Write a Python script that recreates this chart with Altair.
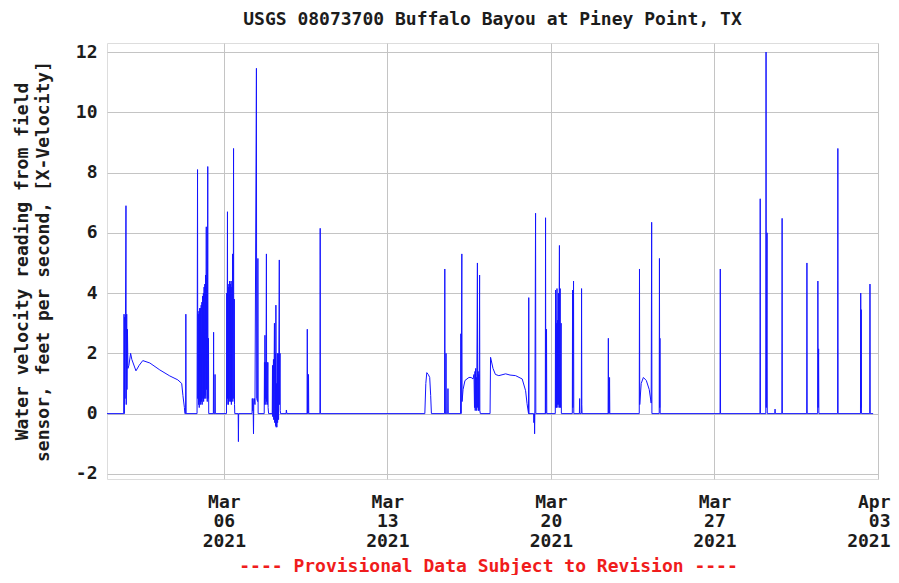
import altair as alt
import pandas as pd

# ---------------- data (15-minute readings, ft/s) ----------------
# Mar 1 - Mar 4 : first event and recession curve
times_a = [
    "03-01 00:00", "03-01 17:15", "03-01 17:30", "03-01 17:45", "03-01 18:15", "03-01 18:30", "03-01 19:00", "03-01 19:30", "03-01 19:45", "03-01 20:15",
    "03-01 20:30", "03-01 21:00", "03-01 21:30", "03-01 22:30", "03-02 00:15", "03-02 01:30", "03-02 05:45", "03-02 09:00", "03-02 12:45", "03-02 20:00",
    "03-03 06:15", "03-03 16:30", "03-04 00:45", "03-04 04:45", "03-04 06:00", "03-04 07:30", "03-04 08:00", "03-04 08:45", "03-04 09:00", "03-04 09:15",
]
vals_a = [
    0, 0, 3.3, 0, 3.2, 0.5, 3.3, 6.9, 0.3, 3.3,
    0.8, 2.8, 1.5, 1.6, 2.0, 1.8, 1.42, 1.6, 1.76, 1.68,
    1.45, 1.25, 1.12, 1.0, 0.6, 0.2, 0, 0, 3.3, 0,
]

# Mar 4 - Mar 5 : dense burst
times_b = [
    "03-04 20:30", "03-04 21:00", "03-04 21:15", "03-04 21:45", "03-04 22:00", "03-04 22:30", "03-04 22:45", "03-04 23:15", "03-04 23:30", "03-05 00:00",
    "03-05 00:15", "03-05 00:45", "03-05 01:00", "03-05 01:30", "03-05 01:45", "03-05 02:15", "03-05 02:30", "03-05 03:00", "03-05 03:15", "03-05 03:45",
    "03-05 04:00", "03-05 04:30", "03-05 04:45", "03-05 05:15", "03-05 05:30", "03-05 06:00", "03-05 06:15", "03-05 06:45", "03-05 07:00", "03-05 07:30",
    "03-05 07:45", "03-05 08:15", "03-05 08:30", "03-05 13:15", "03-05 13:30", "03-05 13:45", "03-05 14:45", "03-05 15:00", "03-05 15:15",
]
vals_b = [
    0, 8.1, 0.5, 3.3, 0.3, 3.4, 0.2, 3.5, 0.4, 3.5,
    0.3, 3.6, 0.4, 3.7, 0.3, 3.9, 0.5, 4.0, 0.4, 4.2,
    0.5, 4.3, 0.6, 4.6, 0.5, 6.2, 0.8, 4.5, 0.4, 8.2,
    0.5, 2.5, 0, 0, 2.7, 0, 0, 1.3, 0,
]

# Mar 6
times_c = [
    "03-06 02:45", "03-06 03:00", "03-06 03:15", "03-06 03:45", "03-06 04:00", "03-06 04:30", "03-06 04:45", "03-06 05:15", "03-06 05:30", "03-06 06:00",
    "03-06 06:15", "03-06 06:45", "03-06 07:00", "03-06 07:30", "03-06 07:45", "03-06 08:15", "03-06 08:30", "03-06 09:00", "03-06 09:15", "03-06 09:45",
    "03-06 10:00", "03-06 10:15", "03-06 10:45", "03-06 11:00", "03-06 11:15", "03-06 14:45", "03-06 15:00", "03-06 15:15",
]
vals_c = [
    0, 4.0, 0.3, 6.7, 0.5, 4.2, 0.3, 4.3, 0.4, 4.4,
    0.5, 4.3, 0.4, 4.4, 0.3, 4.2, 0.5, 5.3, 0.4, 4.0,
    8.8, 0.5, 3.8, 0.3, 0, 0, -0.93, 0,
]

# Mar 7 - Mar 10
times_d = [
    "03-07 05:00", "03-07 05:15", "03-07 05:30", "03-07 06:00", "03-07 06:30", "03-07 06:45", "03-07 07:30", "03-07 08:00", "03-07 09:30", "03-07 09:45",
    "03-07 10:45", "03-07 11:00", "03-07 11:15", "03-07 17:30", "03-07 17:45", "03-07 18:00", "03-07 18:15", "03-07 18:30", "03-07 19:00", "03-07 19:15",
    "03-07 19:45", "03-07 20:00", "03-07 20:30", "03-07 20:45", "03-07 21:15", "03-07 21:30", "03-07 22:00", "03-08 01:45", "03-08 02:00", "03-08 02:15",
    "03-08 03:00", "03-08 03:15", "03-08 04:00", "03-08 04:15", "03-08 05:00", "03-08 05:15", "03-08 05:30", "03-08 05:45", "03-08 06:15", "03-08 06:30",
    "03-08 07:00", "03-08 07:15", "03-08 08:00", "03-08 08:15", "03-08 09:00", "03-08 09:15", "03-08 09:45", "03-08 10:00", "03-08 10:15", "03-08 16:00",
    "03-08 16:15", "03-08 16:45", "03-09 13:30", "03-09 13:45", "03-09 14:00", "03-09 14:45", "03-09 15:00", "03-09 15:15", "03-10 02:45", "03-10 03:00",
    "03-10 03:15",
]
vals_d = [
    0, 0.5, 0.1, 0.5, -0.67, 0.3, 0.5, 0.3, 11.46, 0.5,
    0.4, 5.15, 0, 0, 1.7, 0.3, 2.6, 0.5, 1.7, 0.3,
    5.3, 0.4, 1.7, 0.3, 1.7, 0.2, 0, 0, 1.6, -0.1,
    1.8, -0.2, 3.0, -0.3, 2.0, -0.4, 3.6, -0.45, 1.0, -0.45,
    2.0, -0.3, 2.0, -0.2, 5.1, 0.3, 2.0, 0.1, 0, 0,
    0.12, 0, 0, 2.8, 0, 0, 1.3, 0, 0, 6.15,
    0,
]

# Mar 14 - Mar 16
times_e = [
    "03-14 14:30", "03-14 15:30", "03-14 16:30", "03-14 18:00", "03-14 19:30", "03-14 20:30", "03-14 21:15", "03-15 10:45", "03-15 11:00", "03-15 11:15",
    "03-15 12:00", "03-15 12:15", "03-15 12:30", "03-15 14:00", "03-15 14:15", "03-15 14:30", "03-16 03:15", "03-16 03:30", "03-16 03:45", "03-16 04:30",
    "03-16 04:45", "03-16 05:45", "03-16 07:45", "03-16 11:45", "03-16 14:00", "03-16 16:00", "03-16 17:00", "03-16 17:30", "03-16 18:00", "03-16 18:15",
    "03-16 18:45", "03-16 19:00", "03-16 19:30", "03-16 19:45", "03-16 20:30", "03-16 20:45", "03-16 21:15", "03-16 21:30", "03-16 22:00", "03-16 22:15",
    "03-16 22:45", "03-16 23:00", "03-16 23:30",
]
vals_e = [
    0, 1.0, 1.36, 1.3, 1.2, 0.6, 0, 0, 4.8, 0,
    0, 2.0, 0, 0, 0.83, 0, 0, 2.65, 0, 5.3,
    0.4, 0.8, 1.1, 1.2, 1.2, 1.15, 1.3, 0.2, 1.4, 0.1,
    1.5, 0.2, 1.2, 0.1, 5.0, 0.2, 1.4, 0.1, 1.3, 0.1,
    4.6, 0.1, 0,
]

# Mar 17 - Mar 19
times_f = [
    "03-17 09:30", "03-17 10:00", "03-17 12:30", "03-17 15:00", "03-17 18:30", "03-18 01:30", "03-18 06:00", "03-18 11:45", "03-18 18:30", "03-18 22:00",
    "03-18 23:30", "03-19 01:00", "03-19 01:15", "03-19 01:30", "03-19 06:15", "03-19 06:30", "03-19 07:00", "03-19 07:15", "03-19 07:30", "03-19 08:15",
    "03-19 08:30", "03-19 18:15", "03-19 18:30", "03-19 18:45", "03-19 19:30", "03-19 19:45",
]
vals_f = [
    0, 1.87, 1.5, 1.3, 1.26, 1.32, 1.28, 1.26, 1.15, 0.76,
    0.33, 0, 3.85, 0, 0, -0.3, 0, -0.67, 0, 6.65,
    0, 0, 6.5, 0, 2.8, 0,
]

# Mar 20 - Mar 22
times_g = [
    "03-20 04:30", "03-20 04:45", "03-20 05:00", "03-20 05:30", "03-20 05:45", "03-20 06:15", "03-20 06:30", "03-20 07:00", "03-20 07:15", "03-20 07:45",
    "03-20 08:00", "03-20 08:45", "03-20 09:00", "03-20 09:30", "03-20 09:45", "03-20 10:30", "03-20 10:45", "03-20 22:00", "03-20 22:15", "03-20 22:30",
    "03-20 23:15", "03-20 23:30", "03-21 05:15", "03-21 05:30", "03-21 05:45", "03-21 07:15", "03-21 07:30", "03-21 07:45", "03-21 08:00", "03-22 10:45",
    "03-22 11:00", "03-22 11:15", "03-22 12:00", "03-22 12:15", "03-22 12:30",
]
vals_g = [
    0, 4.1, 0.2, 3.0, 0.2, 4.15, 0.3, 3.1, 0.2, 4.0,
    0.3, 5.58, 0.2, 4.15, 0.2, 3.0, 0, 0, 4.1, 0.2,
    4.4, 0, 0, 0.5, 0, 0, 4.15, 0.3, 0, 0,
    2.5, 0, 0, 1.2, 0,
]

# Mar 23 - Apr 2
times_h = [
    "03-23 18:45", "03-23 19:00", "03-23 19:15", "03-23 20:45", "03-23 23:00", "03-24 02:00", "03-24 05:00", "03-24 07:00", "03-24 07:30", "03-24 07:45",
    "03-24 15:15", "03-24 15:30", "03-24 15:45", "03-24 16:00", "03-24 16:15", "03-27 05:45", "03-27 06:00", "03-27 06:15", "03-28 22:45", "03-28 23:00",
    "03-28 23:15", "03-29 04:45", "03-29 05:00", "03-29 05:15", "03-29 06:00", "03-29 06:15", "03-29 14:00", "03-29 14:15", "03-29 14:30", "03-29 21:15",
    "03-29 21:30", "03-29 21:45", "03-30 22:45", "03-30 23:00", "03-30 23:15", "03-31 10:00", "03-31 10:15", "03-31 10:30", "03-31 11:00", "03-31 11:15",
    "04-01 06:30", "04-01 06:45", "04-01 07:00", "04-02 06:00", "04-02 06:15", "04-02 06:30", "04-02 06:45", "04-02 07:00", "04-02 15:30", "04-02 15:45",
    "04-02 16:00", "04-02 19:00",
]
vals_h = [
    0, 4.8, 0.3, 1.0, 1.2, 1.1, 0.8, 0.35, 6.35, 0,
    0, 5.15, 0.2, 2.5, 0, 0, 4.8, 0, 0, 7.13,
    0, 0, 12.0, 0.2, 6.0, 0, 0, 0.15, 0, 0,
    6.48, 0, 0, 5.0, 0, 0, 4.4, 0.2, 2.15, 0,
    0, 8.8, 0, 0, 4.0, 0.2, 3.45, 0, 0, 4.3,
    0, 0,
]

tick_dates = [(3, 6), (3, 13), (3, 20), (3, 27), (4, 3)]
y_ticks = [-2, 0, 2, 4, 6, 8, 10, 12]

title_text = "USGS 08073700 Buffalo Bayou at Piney Point, TX"
y_title = ["Water velocity reading from field", "sensor, feet per second, [X-Velocity]"]
footer_text = "---- Provisional Data Subject to Revision ----"

# ---------------- build table ----------------
all_times, all_vals = [], []
for t, v in [(times_a, vals_a), (times_b, vals_b), (times_c, vals_c), (times_d, vals_d),
             (times_e, vals_e), (times_f, vals_f), (times_g, vals_g), (times_h, vals_h)]:
    assert len(t) == len(v), (len(t), len(v))
    all_times += t
    all_vals += v

df = pd.DataFrame({
    "time": ["2021-" + s.replace(" ", "T") for s in all_times],
    "velocity": all_vals,
})

FONT = "DejaVu Sans Mono"
TXT = "#1c1c1c"

x = alt.X(
    "time:T",
    scale=alt.Scale(domain=[alt.DateTime(year=2021, month=3, date=1),
                            alt.DateTime(year=2021, month=4, date=3)]),
    axis=alt.Axis(
        values=[alt.DateTime(year=2021, month=m, date=d) for m, d in tick_dates],
        labelExpr="[timeFormat(datum.value, '%b'), timeFormat(datum.value, '%d'), timeFormat(datum.value, '%Y')]",
        labelFont=FONT, labelFontSize=18, labelFontWeight="bold", labelColor=TXT,
        labelBaseline="top", labelLineHeight=19.5, labelPadding=14,
        labelFlush=5, labelFlushOffset=12, labelOverlap=False,
        domain=False, ticks=False,
        grid=True, gridColor="#c4c4c4", gridWidth=1,
        title=footer_text, titleFont=FONT, titleFontSize=18, titleFontWeight="bold",
        titleColor="#f01c1c", titleX=381, titleY=92, titleBaseline="alphabetic",
        titleAlign="center",
    ),
)

y = alt.Y(
    "velocity:Q",
    scale=alt.Scale(domain=[-2.17, 12.3], nice=False, zero=False),
    axis=alt.Axis(
        values=y_ticks, labelExpr="'' + datum.value",
        labelFont=FONT, labelFontSize=18, labelFontWeight="bold", labelColor=TXT,
        labelPadding=10,
        domain=False, ticks=False,
        grid=True, gridColor="#c4c4c4", gridWidth=1,
        title=y_title, titleFont=FONT, titleFontSize=18, titleFontWeight="bold",
        titleColor=TXT, titleAngle=270, titleAlign="center", titleBaseline="bottom",
        titleLineHeight=21, titleX=-76, titleY=218,
    ),
)

chart = (
    alt.Chart(df)
    .mark_line(color="#1414ff", strokeWidth=1, clip=True)
    .encode(x=x, y=y)
    .properties(
        width=771, height=436,
        title=alt.Title(title_text, font=FONT, fontSize=18, fontWeight="bold",
                        color=TXT, anchor="middle", offset=21, baseline="alphabetic",
                        dy=21),
        autosize=alt.AutoSizeParams(type="none"),
        padding={"left": 99, "top": 35, "right": 13, "bottom": 96},
    )
    .configure_view(stroke="#5a5a5a", strokeWidth=2)
    .configure(background="white")
)

chart.save("out.html", embed_options={"renderer": "svg", "actions": False})
